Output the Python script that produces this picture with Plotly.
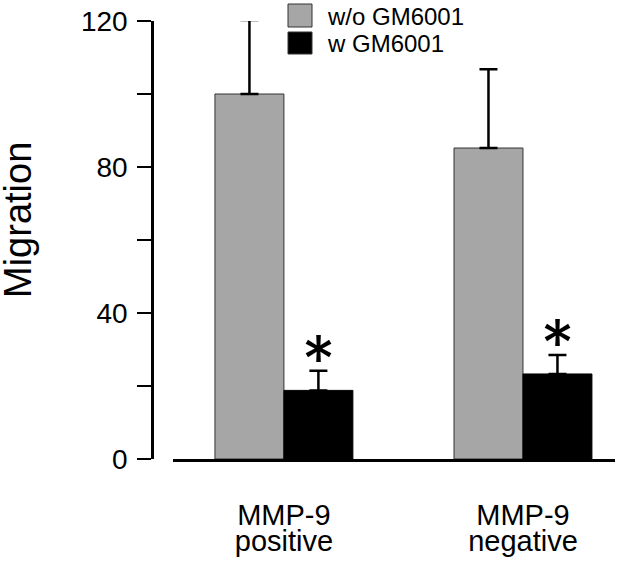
import plotly.graph_objects as go

categories = [("MMP-9", "positive"), ("MMP-9", "negative")]
series_names = ["w/o GM6001", "w GM6001"]
without_vals = [100.0, 85.2]
without_err = [20.3, 21.6]
with_vals = [18.8, 23.3]
with_err = [5.4, 5.2]
significance = ["*", "*"]
y_tickvals = [0, 20, 40, 60, 80, 100, 120]
y_ticktext = ["0", "", "40", "", "80", "", "120"]
y_title = "Migration"

FONT = "Arial, Liberation Sans, sans-serif"
GRAY = "#a6a6a6"

xs = list(range(len(categories)))
ticktext = ["<br>".join(f"<span style='font-size:29px'>{p}</span>" for p in c) for c in categories]

fig = go.Figure()
fig.add_trace(go.Bar(
    x=xs, y=without_vals, name=series_names[0],
    marker=dict(color=GRAY, line=dict(color="#333333", width=1)),
    error_y=dict(type="data", symmetric=False, array=without_err,
                 arrayminus=[0] * len(xs), color="black", thickness=2.5, width=9),
    showlegend=False,
))
fig.add_trace(go.Bar(
    x=xs, y=with_vals, name=series_names[1],
    marker=dict(color="black", line=dict(color="black", width=1)),
    error_y=dict(type="data", symmetric=False, array=with_err,
                 arrayminus=[0] * len(xs), color="black", thickness=2.5, width=9),
    showlegend=False,
))

bargap = 0.423
offset = (1 - bargap) / 4
for i, s in enumerate(significance):
    fig.add_annotation(x=xs[i] + offset, y=with_vals[i] + with_err[i], text=s,
                       showarrow=False, yanchor="middle", yshift=12,
                       font=dict(family="Inter", size=66, color="black"))

L = 152
W = 640 - L - 25
PH = 438
def px(x):
    return (x - L) / W
def py(y):
    return (459 - y) / PH

# legend drawn manually (large swatches as in the reference)
legend_items = [(series_names[0], GRAY, 4, 27, 16), (series_names[1], "black", 32, 54, 43)]
for name, col, top, bot, mid in legend_items:
    fig.add_shape(type="rect", xref="paper", yref="paper",
                  x0=px(288), x1=px(312), y0=py(bot), y1=py(top),
                  fillcolor=col, line=dict(color="#333333", width=1))
    fig.add_annotation(xref="paper", yref="paper", x=px(325), y=py(mid), text=name,
                       showarrow=False, xanchor="left", yanchor="middle",
                       font=dict(family=FONT, size=24, color="black"))

fig.add_annotation(xref="paper", yref="paper", x=px(18), y=py(220), text=y_title,
                   textangle=-90, showarrow=False, xanchor="center", yanchor="middle",
                   font=dict(family=FONT, size=38, color="black"))

fig.update_layout(
    width=640, height=564,
    margin=dict(l=L, r=25, t=21, b=105, autoexpand=False),
    paper_bgcolor="white", plot_bgcolor="white",
    barmode="group", bargap=bargap, bargroupgap=0,
    font=dict(family=FONT, color="black"),
)
fig.update_xaxes(
    domain=[(173 - L) / W, 1],
    tickmode="array", tickvals=xs, ticktext=ticktext,
    range=[-0.464, 1.385], automargin=False,
    showline=True, linecolor="black", linewidth=2.5,
    ticks="", showgrid=False, zeroline=False,
    tickfont=dict(size=20, family=FONT, color="black"),
    ticklabelstandoff=39,
)
fig.update_yaxes(
    anchor="free", position=0, automargin=False,
    range=[0, 120], tickmode="array", tickvals=y_tickvals, ticktext=y_ticktext,
    showline=True, linecolor="black", linewidth=2.5,
    ticks="outside", ticklen=14, tickwidth=2, tickcolor="black",
    showgrid=False, zeroline=False,
    tickfont=dict(size=28, family=FONT, color="black"),
    ticklabelstandoff=4,
)
fig.write_html("out.html", config={"displayModeBar": False},
               post_script="document.body.style.margin='0';")
